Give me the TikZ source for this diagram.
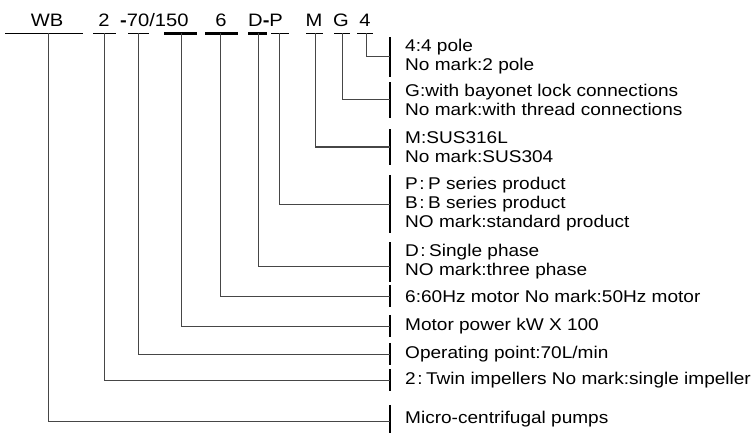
\documentclass[tikz,border=0pt]{standalone}
\usepackage{fontspec}
\setmainfont{Liberation Sans}[FakeStretch=1.12]
\usetikzlibrary{positioning, calc}
\definecolor{linegray}{RGB}{70,70,70}
\newcommand{\wcolon}{\kern1.5pt:\kern3.5pt}

\begin{document}
\begin{tikzpicture}[x=1pt, y=-1pt,
    codetxt/.style={anchor=base, font=\fontsize{18}{20}\selectfont, inner sep=0pt},
    desc/.style={anchor=west, align=left, inner xsep=0pt, inner ysep=2pt,
        minimum height=22pt, font=\fontsize{17}{19}\selectfont},
    conn/.style={line width=1pt, draw=linegray},
    bar/.style={line width=1.2pt}
]
    \useasboundingbox (0,0) rectangle (752,433);

    % model code
    \node[codetxt] (tWB) at (47,27) {WB};
    \node[codetxt] (t2) at (104,27) {2};
    \node[codetxt, anchor=base west] (t70) at (120,27) {\textbf{-}70/150};
    \node[codetxt] (t6) at (221,27) {6};
    \node[codetxt, anchor=base west] (tDP) at (248,27) {D\textbf{-}P};
    \node[codetxt] (tM) at (314,27) {M};
    \node[codetxt] (tG) at (341,27) {G};
    \node[codetxt] (t4) at (365,27) {4};

    % underlines
    \foreach \nm/\xa/\xb/\xv/\lw in {WB/5/83/48/1.6, 2/93/116/104/1.6, 70/128/149/138/1.6,
        150/164/197/181/2.4, 6/205/238/220/2.4, D/248/267/258/2.2, P/271/289/279/1.6,
        M/306/323/315/1.6, G/334/350/342/1.6, 4/357/373/366/1.6} {
        \draw[line width=\lw pt] (\xa,33.5) -- (\xb,33.5);
        \coordinate (u\nm) at (\xv,33.5);
    }

    % meanings
    \node[desc] (l4) at (405,57) {4:4 pole\\No mark:2 pole};
    \node[desc] (lG) at (405,100) {G:with bayonet lock connections\\No mark:with thread connections};
    \node[desc] (lM) at (405,147) {M:SUS316L\\No mark:SUS304};
    \node[desc] (lP) at (405,204) {P\wcolon P series product\\B\wcolon B series product\\NO mark:standard product};
    \node[desc] (lD) at (405,262) {D\wcolon Single phase\\NO mark:three phase};
    \node[desc] (l6) at (405,296) {6:60Hz motor No mark:50Hz motor};
    \node[desc] (l150) at (405,326) {Motor power kW X 100};
    \node[desc] (l70) at (405,354) {Operating point:70L/min};
    \node[desc] (l2) at (405,380) {2\wcolon Twin impellers No mark:single impeller};
    \node[desc, minimum height=28pt] (lWB) at (405,419) {Micro-centrifugal pumps};

    % brackets and leaders
    \foreach \nm/\dy in {4/0, G/0, M/0, P/0, D/-4, 6/0, 150/0, 70/0, 2/0, WB/-2} {
        \draw[bar] ([xshift=-15pt]l\nm.north west) -- ([xshift=-15pt]l\nm.south west);
        \draw[conn] (u\nm) |- ([xshift=-15pt, yshift=\dy pt]l\nm.west);
    }
\end{tikzpicture}
\end{document}
